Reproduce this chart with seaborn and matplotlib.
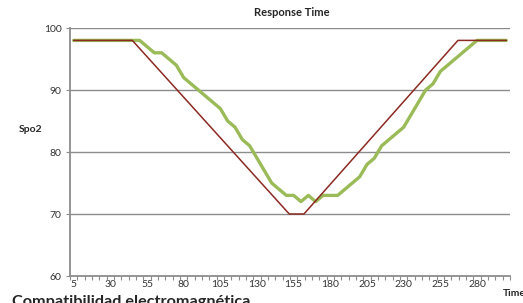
import numpy as np
import pandas as pd
import matplotlib
matplotlib.use("Agg")
import matplotlib.pyplot as plt
import seaborn as sns

# measured SpO2 readings, one per 5 s category
time_s = list(range(5, 305, 5))
spo2 = [98, 98, 98, 98, 98, 98, 98, 98, 98, 98,
        97, 96, 96, 95, 94, 92, 91, 90, 89, 88,
        87, 85, 84, 82, 81, 79, 77, 75, 74, 73,
        73, 72, 73, 72, 73, 73, 73, 74, 75, 76,
        78, 79, 81, 82, 83, 84, 86, 88, 90, 91,
        93, 94, 95, 96, 97, 98, 98, 98, 98, 98]

# reference (expected) response
ref_time = [5, 45, 152, 162, 267, 300]
ref_spo2 = [98, 98, 70, 70, 98, 98]

y_ticks = [60, 70, 80, 90, 100]
x_labels = list(range(5, 281, 25))

sns.set_style("white")
plt.rcParams['font.family'] = ['Lato', 'DejaVu Sans']

df = pd.DataFrame({"Time": time_s, "Spo2": spo2})
ref = pd.DataFrame({"Time": ref_time, "Spo2": ref_spo2})

fig = plt.figure(figsize=(5.23, 3.03), dpi=100)
ax = fig.add_axes([70/523, 1-276/303, 440/523, 248/303])

for v in y_ticks[1:]:
    ax.axhline(v, color="#8c8c8c", lw=1.0, zorder=1)

sns.lineplot(data=df, x="Time", y="Spo2", color="#9bbb59", lw=2.4, ax=ax, zorder=3)
sns.lineplot(data=ref, x="Time", y="Spo2", color="#8b2a22", lw=1.1, ax=ax, zorder=4)

ax.set_xlim(2.5, 302.5)
ax.set_ylim(60, 100)
ax.set_yticks(y_ticks)
ax.set_xticks(x_labels)
ax.set_xticks(np.arange(2.5, 303, 5), minor=True)
ax.tick_params(axis="x", which="major", length=0, pad=3, labelsize=7.5, colors="#333333")
ax.tick_params(axis="x", which="minor", length=3, width=0.8, color="#8c8c8c", direction="out")
ax.tick_params(axis="y", length=3, width=0.8, color="#8c8c8c", labelsize=7.5, labelcolor="#333333", pad=3)
ax.tick_params(axis="x", bottom=True, which="both")
ax.tick_params(axis="y", left=True)

for s in ["top", "right"]:
    ax.spines[s].set_visible(False)
for s in ["left", "bottom"]:
    ax.spines[s].set_color("#8c8c8c")
    ax.spines[s].set_linewidth(1.3)

ax.set_xlabel("")
ax.set_ylabel("")

fig.text(292/523, 1-12/303, "Response Time", ha="center", va="center",
         fontsize=8, fontweight="bold")
fig.text(31/523, 1-130/303, "Spo2", ha="center", va="center",
         fontsize=7.5, fontweight="bold")
fig.text(503/523, 1-294/303, "Time", ha="left", va="center",
         fontsize=7.5, fontweight="bold")
fig.text(12/523, 1-295/303, "Compatibilidad electromagnética", ha="left", va="top",
         fontsize=11.7, fontweight="bold")

fig.savefig("out.png", dpi=100)
